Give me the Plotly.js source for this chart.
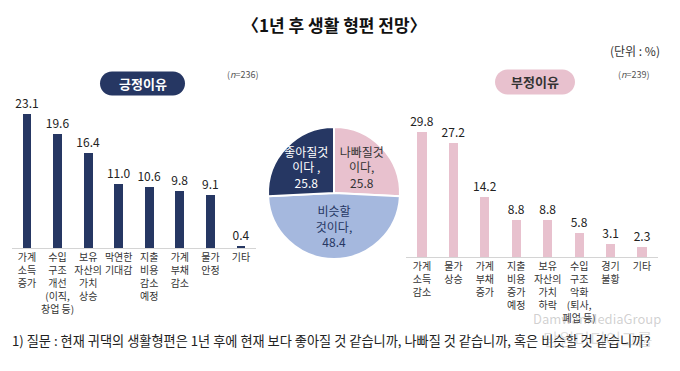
<!DOCTYPE html>
<html>
<head>
<meta charset="utf-8">
<script src="https://cdn.plot.ly/plotly-3.0.1.min.js"></script>
<style>html,body{margin:0;padding:0;background:#fff;}#chart{width:680px;height:371px;}</style>
</head>
<body>
<div id="chart"></div>
<script>
// ---- data ----
const posCategories = ['가계<br>소득<br>증가', '수입<br>구조<br>개선<br>(이직,<br>창업 등)', '보유<br>자산의<br>가치<br>상승', '막연한<br>기대감', '지출<br>비용<br>감소<br>예정', '가계<br>부채<br>감소', '물가<br>안정', '기타'];
const posValues = [23.1, 19.6, 16.4, 11.0, 10.6, 9.8, 9.1, 0.4];
const negCategories = ['가계<br>소득<br>감소', '물가<br>상승', '가계<br>부채<br>증가', '지출<br>비용<br>증가<br>예정', '보유<br>자산의<br>가치<br>하락', '수입<br>구조<br>악화<br>(퇴사,<br>폐업 등)', '경기<br>불황', '기타'];
const negValues = [29.8, 27.2, 14.2, 8.8, 8.8, 5.8, 3.1, 2.3];
const pieLabels = ['나빠질것<br>이다,', '비슷할<br>것이다,', '좋아질것<br>이다 ,'];
const pieValues = [25.8, 48.4, 25.8];

const FONT = '"Noto Sans CJK KR", "Noto Sans", sans-serif';
const NAVY = '#263763', PINK = '#e8c1ce', LBLUE = '#a5b8de';
const W = 680, H = 371;
const px = v => v / W, py = v => (H - v) / H;

const traces = [
  {type: 'bar', x: posCategories, y: posValues, xaxis: 'x', yaxis: 'y', width: 0.29,
   marker: {color: NAVY}, text: posValues.map(v => v.toFixed(1)), textposition: 'outside', constraintext: 'none',
   textfont: {family: FONT, size: 12, color: '#222'}, cliponaxis: false, hoverinfo: 'skip'},
  {type: 'bar', x: negCategories, y: negValues, xaxis: 'x2', yaxis: 'y2', width: 0.29,
   marker: {color: PINK}, text: negValues.map(v => v.toFixed(1)), textposition: 'outside', constraintext: 'none',
   textfont: {family: FONT, size: 12, color: '#222'}, cliponaxis: false, hoverinfo: 'skip'},
  {type: 'pie', labels: pieLabels, values: pieValues, sort: false, direction: 'clockwise', rotation: 0,
   marker: {colors: [PINK, LBLUE, NAVY], line: {color: '#fff', width: 2}},
   texttemplate: '%{label}<br>%{value:.1f}', textposition: 'inside', insidetextorientation: 'horizontal',
   textfont: {family: FONT, size: 12, color: ['#333', '#263763', '#fff']},
   domain: {x: [px(334 - 66), px(334 + 66)], y: [py(193 + 66), py(193 - 66)]},
   showlegend: false, hoverinfo: 'skip'}
];

function pill(cx, cy, w, h, color) {
  const r = h / 2, hw = w / 2 - r, k = 0.5523 * r;
  return {type: 'path', xref: 'paper', yref: 'paper', xsizemode: 'pixel', ysizemode: 'pixel',
    xanchor: px(cx), yanchor: py(cy), fillcolor: color, line: {width: 0}, layer: 'below',
    path: `M${-hw},${-r} L${hw},${-r} C${hw + k},${-r} ${hw + r},${-k} ${hw + r},0 C${hw + r},${k} ${hw + k},${r} ${hw},${r} L${-hw},${r} C${-hw - k},${r} ${-hw - r},${k} ${-hw - r},0 C${-hw - r},${-k} ${-hw - k},${-r} ${-hw},${-r} Z`};
}

const axisX = {type: 'category', showgrid: false, zeroline: false, showline: true, linecolor: '#d4d4d4', linewidth: 1,
  ticks: '', tickangle: 0, tickfont: {family: FONT, size: 10, color: '#333'}, range: [-0.5, 7.5], fixedrange: true};
const axisY = {visible: false, showgrid: false, zeroline: false, fixedrange: true};

function note(text, x, y, size, color, extra) {
  return Object.assign({text: text, x: px(x), y: py(y), xref: 'paper', yref: 'paper', showarrow: false,
    xanchor: 'center', yanchor: 'middle', font: {family: FONT, size: size, color: color}}, extra || {});
}

const layout = {
  width: W, height: H, margin: {l: 0, r: 0, t: 0, b: 0},
  paper_bgcolor: '#fff', plot_bgcolor: 'rgba(0,0,0,0)', showlegend: false, bargap: 0,
  uniformtext: {minsize: 12, mode: 'show'},
  xaxis: Object.assign({}, axisX, {domain: [px(11.7), px(256.3)], anchor: 'y'}),
  yaxis: Object.assign({}, axisY, {domain: [py(248), py(100)], range: [0, (248 - 100) / 5.8], anchor: 'x'}),
  xaxis2: Object.assign({}, axisX, {domain: [px(406.3), px(657.7)], anchor: 'y2'}),
  yaxis2: Object.assign({}, axisY, {domain: [py(257), py(110)], range: [0, (257 - 110) / 4.2], anchor: 'x2'}),
  shapes: [pill(142.5, 83.5, 85, 24, NAVY), pill(535, 82, 80, 25, PINK)],
  annotations: [
    note('〈1년 후 생활 형편 전망〉', 334, 25, 17, '#111', {font: {family: FONT, size: 17, color: '#111', weight: 'bold'}}),
    note('(단위 : %)', 662, 50, 12, '#333', {xanchor: 'right'}),
    note('긍정이유', 142.5, 83.5, 13, '#fff', {font: {family: FONT, size: 13, color: '#fff', weight: 'bold'}}),
    note('부정이유', 535, 82, 13, '#333', {font: {family: FONT, size: 13, color: '#333', weight: 'bold'}}),
    note('(<i>n</i>=236)', 243, 75, 9, '#555'),
    note('(<i>n</i>=239)', 634, 74, 9, '#555'),
    note('1) 질문 : 현재 귀댁의 생활형편은 1년 후에 현재 보다 좋아질 것 같습니까, 나빠질 것 같습니까, 혹은 비슷할 것 같습니까?',
         10, 340, 13.2, '#222', {xanchor: 'left'}),
    note('DamwanMediaGroup', 597, 318, 13, 'rgba(120,120,120,0.35)'),
    note('담원미디어그룹', 597, 338, 17, 'rgba(120,120,120,0.25)')
  ]
};

Plotly.newPlot('chart', traces, layout, {staticPlot: true, displayModeBar: false});
</script>
</body>
</html>
